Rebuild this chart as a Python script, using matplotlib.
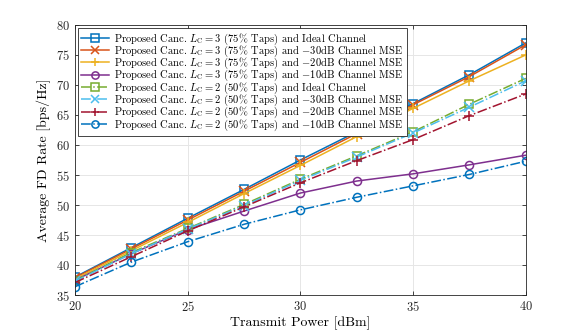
import matplotlib
matplotlib.use('Agg')
import matplotlib.pyplot as plt
import numpy as np

plt.rcParams['font.family'] = ['cmr10', 'DejaVu Serif']
plt.rcParams['mathtext.fontset'] = 'cm'
plt.rcParams['axes.formatter.use_mathtext'] = True
plt.rcParams['axes.unicode_minus'] = False

# transmit power (dBm)
power = [20, 22.5, 25, 27.5, 30, 32.5, 35, 37.5, 40]

# average FD rate (bps/Hz)
l3_ideal = [38.0, 42.9, 47.8, 52.6, 57.5, 62.2, 66.9, 71.7, 77.0]
l3_m30 = [37.9, 42.7, 47.5, 52.3, 57.1, 61.9, 66.7, 71.4, 76.7]
l3_m20 = [37.7, 42.4, 47.1, 51.9, 56.6, 61.4, 66.1, 70.7, 75.0]
l3_m10 = [37.5, 41.9, 45.9, 49.0, 52.0, 54.0, 55.2, 56.7, 58.3]
l2_ideal = [37.4, 42.1, 46.1, 50.1, 54.3, 58.2, 62.2, 66.8, 71.1]
l2_m30 = [37.3, 41.9, 46.0, 49.9, 54.1, 58.0, 62.0, 66.3, 70.7]
l2_m20 = [37.1, 41.4, 45.7, 49.7, 53.7, 57.4, 60.9, 64.9, 68.5]
l2_m10 = [36.4, 40.5, 43.9, 46.8, 49.2, 51.3, 53.2, 55.1, 57.3]

labels = [
    r'Proposed Canc. $L_{\rm C}=3$ (75% Taps) and Ideal Channel',
    r'Proposed Canc. $L_{\rm C}=3$ (75% Taps) and $-$30dB Channel MSE',
    r'Proposed Canc. $L_{\rm C}=3$ (75% Taps) and $-$20dB Channel MSE',
    r'Proposed Canc. $L_{\rm C}=3$ (75% Taps) and $-$10dB Channel MSE',
    r'Proposed Canc. $L_{\rm C}=2$ (50% Taps) and Ideal Channel',
    r'Proposed Canc. $L_{\rm C}=2$ (50% Taps) and $-$30dB Channel MSE',
    r'Proposed Canc. $L_{\rm C}=2$ (50% Taps) and $-$20dB Channel MSE',
    r'Proposed Canc. $L_{\rm C}=2$ (50% Taps) and $-$10dB Channel MSE',
]
series = [l3_ideal, l3_m30, l3_m20, l3_m10, l2_ideal, l2_m30, l2_m20, l2_m10]
colors = ['#0072BD', '#D95319', '#EDB120', '#7E2F8E',
          '#77AC30', '#4DBEEE', '#A2142F', '#0072BD']
markers = ['s', 'x', '+', 'o', 's', 'x', '+', 'o']
styles = ['-', '-', '-', '-', '-.', '-.', '-.', '-.']

fig = plt.figure(figsize=(5.81, 3.32), dpi=100)
ax = fig.add_axes([0.129, 0.111, 0.776, 0.814])

for y, lab, c, m, ls in zip(series, labels, colors, markers, styles):
    ms = 6.5 if m in ('x', '+') else 5.8
    ax.plot(power, y, linestyle=ls, color=c, marker=m, markersize=ms,
            markerfacecolor='none', markeredgecolor=c, markeredgewidth=1.1,
            linewidth=1.1, label=lab)

ax.set_xlim(20, 40)
ax.set_ylim(35, 80)
ax.set_xticks([20, 25, 30, 35, 40])
ax.set_yticks(np.arange(35, 81, 5))
ax.grid(True, color='#e6e6e6', linewidth=0.7)
ax.set_axisbelow(True)
ax.tick_params(direction='in', top=True, right=True, length=3,
               labelsize=9, colors='#262626', width=0.6)
for s in ax.spines.values():
    s.set_color('#262626')
    s.set_linewidth(0.6)
ax.set_xlabel('Transmit Power [dBm]', fontsize=10, labelpad=2)
ax.set_ylabel('Average FD Rate [bps/Hz]', fontsize=10, labelpad=4)

leg = ax.legend(loc='upper left', fontsize=7.6, frameon=True, fancybox=False,
                edgecolor='#262626', framealpha=1, handlelength=2.6,
                labelspacing=-0.28, borderpad=0.35, borderaxespad=0.25,
                handletextpad=0.5, markerscale=0.9)
leg.get_frame().set_linewidth(0.6)

plt.savefig('out.png', dpi=100)
